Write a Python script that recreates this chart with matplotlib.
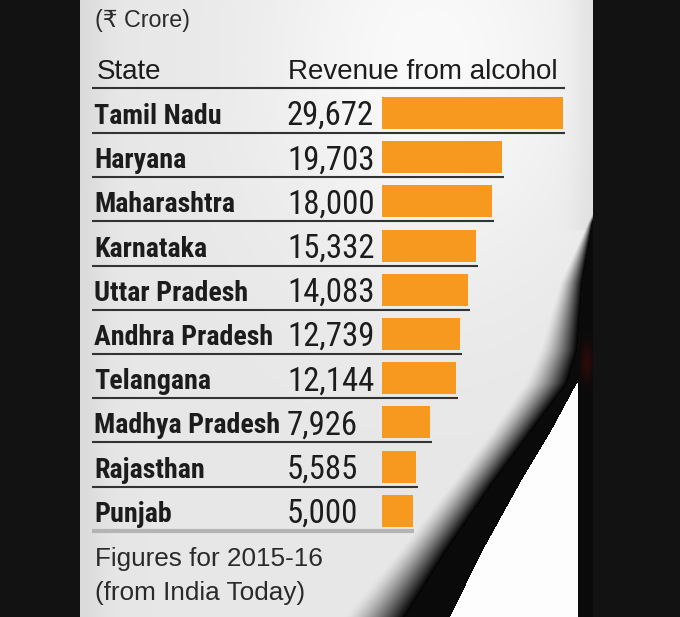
import numpy as np
import matplotlib
matplotlib.use("Agg")
import matplotlib.pyplot as plt
from matplotlib import font_manager as fm

# ---- data ----
states = ["Tamil Nadu", "Haryana", "Maharashtra", "Karnataka", "Uttar Pradesh",
          "Andhra Pradesh", "Telangana", "Madhya Pradesh", "Rajasthan", "Punjab"]
revenue = [29672, 19703, 18000, 15332, 14083, 12739, 12144, 7926, 5585, 5000]
value_labels = ["29,672", "19,703", "18,000", "15,332", "14,083",
                "12,739", "12,144", "7,926", "5,585", "5,000"]
unit_label = "(₹ Crore)"
col_headers = ["State", "Revenue from alcohol"]
footnote = ["Figures for 2015-16", "(from India Today)"]

W, H = 680, 617
DPI = 100


# ---- font selection (prefer condensed faces if any are installed) ----
def is_bold(f):
    w = f.weight
    if isinstance(w, str):
        return w.lower() in ("bold", "heavy", "black", "demibold", "semibold", "extra bold")
    return w >= 600


def find_condensed(bold):
    prefs = ["Liberation Sans Narrow", "Roboto Condensed", "Open Sans Condensed",
             "Noto Sans", "DejaVu Sans", "Open Sans", "Roboto"]
    best = None
    for f in fm.fontManager.ttflist:
        name = f.name
        cond = (str(f.stretch) in ("condensed", "semi-condensed", "extra-condensed")
                or "Narrow" in name or "Condensed" in name
                or "Condensed" in f.fname or "Narrow" in f.fname)
        if not cond:
            continue
        if f.style != "normal":
            continue
        if is_bold(f) != bold:
            continue
        if "Semi" in f.fname or "Extra" in f.fname or "Light" in f.fname or "Medium" in f.fname:
            continue
        rank = len(prefs)
        for i, p in enumerate(prefs):
            if name.startswith(p):
                rank = i
                break
        if best is None or rank < best[0]:
            best = (rank, f.fname)
    if best is not None:
        return fm.FontProperties(fname=best[1])
    return fm.FontProperties(family=["Roboto", "DejaVu Sans"],
                             weight="bold" if bold else "normal")


fp_bold = find_condensed(True)
fp_cond = find_condensed(False)
regular = ["Liberation Sans", "DejaVu Sans"]

fig = plt.figure(figsize=(W / DPI, H / DPI), dpi=DPI)
fig.patch.set_facecolor("#121212")
ax = fig.add_axes([0, 0, 1, 1])
ax.set_xlim(0, W)
ax.set_ylim(H, 0)
ax.axis("off")
renderer = fig.canvas.get_renderer()


def fitted_size(sample, target_w, cap_px, **kw):
    t = ax.text(0, 0, sample, fontsize=20, **kw)
    bb = t.get_window_extent(renderer)
    t.remove()
    s_w = 20 * target_w / bb.width
    s_h = cap_px  # cap px / 0.72 = font px; font px * 0.72 = pt
    return min(s_w, s_h)


# ---- background panel with glass-like dark curve ----
x0p, x1p = 80, 593
xs = np.arange(x0p, x1p) + 0.5
ys = np.arange(0, H) + 0.5
XX, YY = np.meshgrid(xs, ys)
base = 231 + 19 * np.exp(-((XX - 430) / 170) ** 2 - ((YY - 60) / 220) ** 2)
base -= 12 * np.exp(-((XX - 80) / 25) ** 2)
base -= 10 * np.exp(-((XX - 593) / 20) ** 2) * (YY < 230)

yk = [0, 200, 223, 283, 350, 383, 433, 483, 550, 617]
Ok = [600, 600, 592, 582, 577, 567, 530, 493, 447, 405]
Gk = [600, 600, 588, 560, 540, 525, 490, 452, 400, 345]
O = np.interp(YY, yk, Ok)
G = np.interp(YY, yk, Gk)
E = np.interp(YY, [0, 380, 383, 433, 483, 550, 617], [700, 700, 577, 550, 520, 483, 450])

t = np.clip((XX - G) / np.maximum(O - G, 1e-6), 0, 1)
val = base * (1 - t ** 1.4)
val = np.where(XX >= O, 10, val)
val = np.where((XX >= E) & (XX < 578), 253, val)
val = np.where((XX >= 578) & (YY > 337), 10, val)
img = np.clip(val, 0, 255)
r = img + 35 * np.exp(-((XX - 587) / 6) ** 2 - ((YY - 362) / 18) ** 2) * (img < 40)
rgb = np.stack([np.clip(r, 0, 255), img, img], axis=-1).astype(np.uint8)
ax.imshow(rgb, extent=(x0p, x1p, H, 0), aspect="auto", interpolation="bilinear", zorder=0)

# ---- layout ----
row0 = 113.0
step = 44.2
centers = row0 + step * np.arange(len(states))
bar_left = 382
scale = 181 / 29672.0
widths = np.array(revenue) * scale
ink = "#1c1c1c"

s_unit = fitted_size(unit_label, 95, 20, family=regular)
s_head = fitted_size(col_headers[1], 269, 21, family=regular)
s_name = fitted_size("Madhya Pradesh", 186, 22, fontproperties=fp_bold)
s_val = fitted_size("29,672", 87, 24, fontproperties=fp_cond)
s_foot = fitted_size(footnote[0], 228, 19, family=regular)

ax.text(95, 27, unit_label, fontsize=s_unit, family=regular, color="#2a2a2a",
        va="baseline", ha="left")
ax.text(97, 79, col_headers[0], fontsize=s_head, family=regular, color=ink,
        va="baseline", ha="left")
ax.text(288, 79, col_headers[1], fontsize=s_head, family=regular, color=ink,
        va="baseline", ha="left")
ax.plot([92, 565], [88, 88], color="#333333", lw=1.5, solid_capstyle="butt", zorder=2)

ax.barh(centers, widths, left=bar_left, height=32, color="#f7991f", zorder=3)

for i, (s, v, c, w) in enumerate(zip(states, value_labels, centers, widths)):
    tn = ax.text(94, c + 11, s, color=ink, va="baseline", ha="left", zorder=4)
    tn.set_fontproperties(fp_bold)
    tn.set_fontsize(s_name)
    tv = ax.text(287, c + 12, v, color=ink, va="baseline", ha="left", zorder=4)
    tv.set_fontproperties(fp_cond)
    tv.set_fontsize(s_val)
    if i < len(states) - 1:
        ax.plot([92, bar_left + w + 2], [c + 20, c + 20], color="#333333",
                lw=1.5, solid_capstyle="butt", zorder=2)
    else:
        ax.plot([92, bar_left + w + 1], [c + 20, c + 20], color="#b4b4b4",
                lw=3, solid_capstyle="butt", zorder=2)

ax.text(95, 566, footnote[0], fontsize=s_foot, family=regular, color="#2a2a2a",
        va="baseline", ha="left")
ax.text(95, 600, footnote[1], fontsize=s_foot, family=regular, color="#2a2a2a",
        va="baseline", ha="left")

fig.savefig("out.png", dpi=DPI, facecolor=fig.get_facecolor())
